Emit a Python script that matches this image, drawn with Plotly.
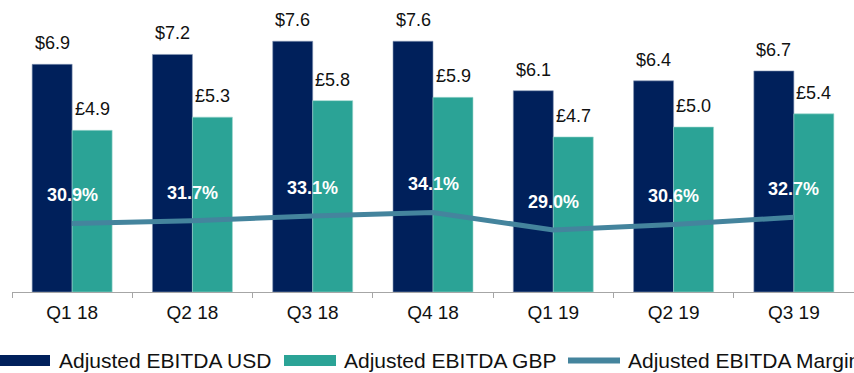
import plotly.graph_objects as go

# Quarterly adjusted EBITDA (millions) and margin (%)
quarters = ["Q1 18", "Q2 18", "Q3 18", "Q4 18", "Q1 19", "Q2 19", "Q3 19"]
ebitda_usd = [6.9, 7.2, 7.6, 7.6, 6.1, 6.4, 6.7]
ebitda_gbp = [4.9, 5.3, 5.8, 5.9, 4.7, 5.0, 5.4]
ebitda_margin = [30.9, 31.7, 33.1, 34.1, 29.0, 30.6, 32.7]

series_names = ["Adjusted EBITDA USD", "Adjusted EBITDA GBP", "Adjusted EBITDA Margin"]

NAVY = "#00205B"
TEAL = "#2BA396"
STEEL = "#44849D"
FONT = "Liberation Sans, Arial, sans-serif"

W, H = 854, 373
ML, MR, MT, MB = 12, 0, 0, 81


def px_x(p):
    return (p - ML) / (W - ML - MR)


def px_y(p):
    return (H - MB - p) / (H - MT - MB)


fig = go.Figure()
fig.add_bar(x=quarters, y=ebitda_usd, name=series_names[0],
            marker=dict(color=NAVY, line=dict(color="#8597b5", width=0.6)))
fig.add_bar(x=quarters, y=ebitda_gbp, name=series_names[1],
            marker=dict(color=TEAL, line=dict(color="#9fd6cf", width=0.6)))
fig.add_scatter(x=quarters, y=ebitda_margin, name=series_names[2], yaxis="y2",
                mode="lines", line=dict(color=STEEL, width=5))

annotations = []
for q, v in zip(quarters, ebitda_usd):
    annotations.append(dict(x=q, y=v, xref="x", yref="y", text=f"${v:.1f}",
                            showarrow=False, xshift=-20, yanchor="bottom", yshift=9,
                            font=dict(family=FONT, size=18, color="#111111")))
for q, v in zip(quarters, ebitda_gbp):
    annotations.append(dict(x=q, y=v, xref="x", yref="y", text=f"£{v:.1f}",
                            showarrow=False, xshift=20, yanchor="bottom", yshift=9,
                            font=dict(family=FONT, size=18, color="#111111")))
for q, v in zip(quarters, ebitda_margin):
    annotations.append(dict(x=q, y=v, xref="x", yref="y2", text=f"<b>{v:.1f}%</b>",
                            showarrow=False, yanchor="middle", yshift=28,
                            font=dict(family=FONT, size=18, color="white")))

# Legend drawn as swatches plus labels along the bottom
shapes = []
legend_items = [
    (series_names[0], NAVY, "bar", 0, 50, 57),
    (series_names[1], TEAL, "bar", 284, 336, 342),
    (series_names[2], STEEL, "line", 568, 620, 626),
]
LEG_Y = 360.5
for name, color, kind, x0, x1, tx in legend_items:
    if kind == "bar":
        shapes.append(dict(type="rect", xref="paper", yref="paper",
                           x0=px_x(x0), x1=px_x(x1),
                           y0=px_y(LEG_Y + 5.5), y1=px_y(LEG_Y - 5.5),
                           fillcolor=color, line=dict(width=0)))
    else:
        shapes.append(dict(type="line", xref="paper", yref="paper",
                           x0=px_x(x0), x1=px_x(x1),
                           y0=px_y(LEG_Y), y1=px_y(LEG_Y),
                           line=dict(color=color, width=6)))
    annotations.append(dict(x=px_x(tx), y=px_y(LEG_Y), xref="paper", yref="paper",
                            text=name, showarrow=False, xanchor="left", yanchor="middle",
                            font=dict(family=FONT, size=21, color="#111111")))

fig.update_layout(
    width=W, height=H,
    margin=dict(l=ML, r=MR, t=MT, b=MB),
    paper_bgcolor="white", plot_bgcolor="white",
    barmode="group", bargap=0.335, bargroupgap=0,
    showlegend=False,
    font=dict(family=FONT, color="#111111"),
    xaxis=dict(type="category", showline=True, linecolor="#A6A6A6", linewidth=1.2,
               ticks="outside", tickson="boundaries", ticklen=5, tickcolor="#A6A6A6",
               ticklabelstandoff=3,
               tickfont=dict(family=FONT, size=19, color="#111111"),
               showgrid=False, zeroline=False),
    yaxis=dict(range=[0, 8.85], visible=False, showgrid=False, zeroline=False),
    yaxis2=dict(range=[10.9, 96.1], overlaying="y", side="right", visible=False,
                showgrid=False, zeroline=False),
    annotations=annotations,
    shapes=shapes,
)

fig.write_html("out.html")
